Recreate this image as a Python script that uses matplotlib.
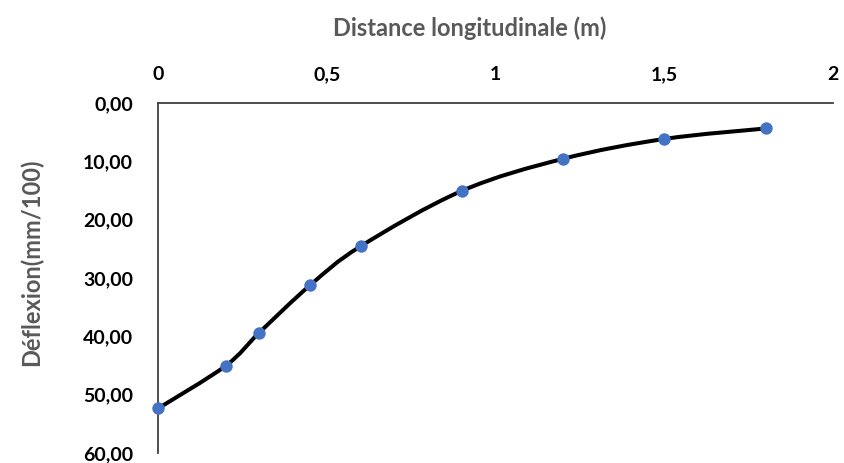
import numpy as np
import matplotlib.pyplot as plt
from matplotlib.path import Path
from matplotlib.patches import PathPatch
from matplotlib.ticker import FuncFormatter

# data
distance = [0, 0.2, 0.3, 0.45, 0.6, 0.9, 1.2, 1.5, 1.8]
deflexion = [52.4, 45.1, 39.4, 31.3, 24.6, 15.1, 9.6, 6.2, 4.4]
x_ticks = [0, 0.5, 1, 1.5, 2]
y_ticks = [0, 10, 20, 30, 40, 50, 60]

plt.rcParams['font.family'] = ['Lato', 'DejaVu Sans']


# smooth curve like Excel's "smoothed line" (Catmull-Rom -> cubic Bezier)
def smooth_path(xs, ys, tension=1 / 6):
    pts = np.column_stack([xs, ys]).astype(float)
    n = len(pts)
    verts = [pts[0]]
    codes = [Path.MOVETO]
    for i in range(n - 1):
        p0 = pts[max(i - 1, 0)]
        p1 = pts[i]
        p2 = pts[i + 1]
        p3 = pts[min(i + 2, n - 1)]
        c1 = p1 + (p2 - p0) * tension
        c2 = p2 - (p3 - p1) * tension
        verts += [c1, c2, p2]
        codes += [Path.CURVE4] * 3
    return Path(verts, codes)


fig = plt.figure(figsize=(8.45, 4.63), dpi=100)
ax = fig.add_axes([0.187, 0.022, 0.799, 0.756])

ax.add_patch(PathPatch(smooth_path(distance, deflexion), facecolor='none',
                       edgecolor='black', lw=2.9, capstyle='round', zorder=2))
ax.scatter(distance, deflexion, s=80, color='#4472C4', zorder=3,
           linewidths=0, clip_on=False)

ax.set_xlim(0, 2)
ax.set_ylim(60, 0)
ax.set_xticks(x_ticks)
ax.set_yticks(y_ticks)
ax.xaxis.tick_top()
ax.xaxis.set_label_position('top')
ax.xaxis.set_major_formatter(FuncFormatter(lambda v, p: f"{v:g}".replace('.', ',')))
ax.yaxis.set_major_formatter(FuncFormatter(lambda v, p: f"{v:.2f}".replace('.', ',')))
ax.tick_params(length=0, labelsize=14, pad=14)
for lab in ax.get_xticklabels() + ax.get_yticklabels():
    lab.set_fontweight('bold')
ax.tick_params(axis='y', pad=18)

for side in ['right', 'bottom']:
    ax.spines[side].set_visible(False)
for side in ['top', 'left']:
    ax.spines[side].set_color('#404040')
    ax.spines[side].set_linewidth(1.3)

ax.set_xlabel("Distance longitudinale (m)", fontsize=17, fontweight='bold',
              color='#595959')
ax.set_ylabel("Déflexion(mm/100)", fontsize=17, fontweight='bold',
              color='#595959')
ax.xaxis.set_label_coords(0.462, 1.19)
ax.yaxis.set_label_coords(-0.17, 0.543)

fig.savefig("out.png", dpi=100)
